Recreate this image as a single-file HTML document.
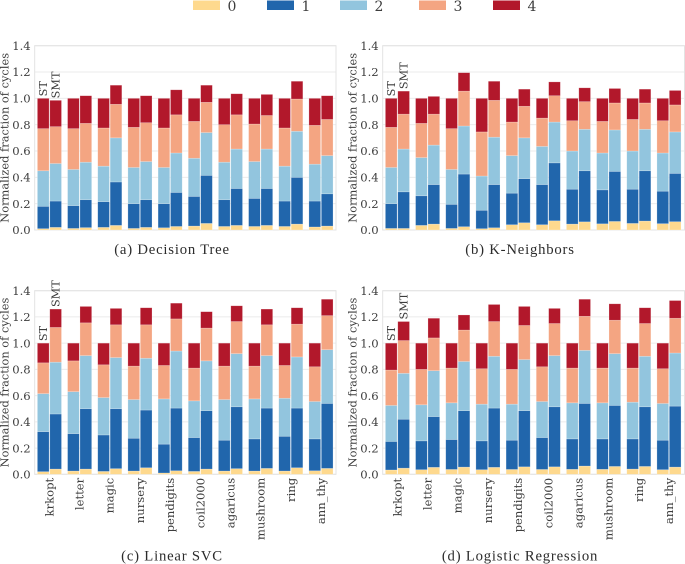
<!DOCTYPE html>
<html>
<head>
<meta charset="utf-8">
<title>Normalized fraction of cycles</title>
<style>
html,body{margin:0;padding:0;background:#fff;width:685px;height:564px;overflow:hidden}
svg{display:block}
text{font-family:"DejaVu Serif","Liberation Serif",serif;fill:#3d3d3d}
.cap{font-family:"Liberation Serif","DejaVu Serif",serif;font-size:14.7px;letter-spacing:.8px;fill:#2b2b2b}
</style>
</head>
<body>
<svg id="chart" xmlns="http://www.w3.org/2000/svg" width="685" height="564" viewBox="0 0 685 564"></svg>
<script>
// Dataset categories and axis ticks
const categories = ['krkopt','letter','magic','nursery','pendigits','coil2000','agaricus','mushroom','ring','ann_thy'];
const yTicks = [0,0.2,0.4,0.6,0.8,1.0,1.2,1.4];
const legendLabels = ['0','1','2','3','4'];

// Cumulative stack tops (levels 0..4) for each dataset
const decisionTreeST = [[.01,.18,.45,.77,1],[.012,.185,.46,.77,1],[.02,.215,.485,.775,1],[.012,.2,.475,.78,1],[.017,.2,.475,.775,1],[.03,.255,.545,.825,1],[.027,.23,.515,.8,1],[.027,.24,.52,.805,1],[.027,.22,.485,.775,1],[.023,.22,.5,.795,1]];
const decisionTreeSMT = [[.02,.22,.505,.785,.985],[.018,.23,.515,.81,1.02],[.035,.365,.7,.955,1.1],[.02,.23,.52,.815,1.02],[.027,.285,.585,.875,1.065],[.05,.415,.74,.97,1.1],[.035,.315,.615,.875,1.035],[.035,.315,.615,.87,1.03],[.045,.4,.75,.995,1.13],[.03,.275,.565,.84,1.02]];
const kNeighborsST = [[.012,.2,.475,.78,1],[.035,.26,.55,.81,1],[.012,.195,.46,.77,1],[.01,.15,.41,.745,1],[.04,.28,.565,.82,1],[.04,.345,.635,.85,1],[.045,.31,.6,.83,1],[.047,.305,.585,.825,1],[.05,.31,.6,.84,1],[.048,.295,.585,.83,1]];
const kNeighborsSMT = [[.012,.29,.615,.88,1.055],[.045,.345,.645,.88,1.015],[.025,.425,.79,1.055,1.195],[.017,.345,.705,.985,1.13],[.055,.39,.7,.94,1.07],[.07,.51,.82,1.02,1.125],[.062,.45,.765,.975,1.08],[.065,.445,.76,.965,1.075],[.068,.45,.765,.965,1.07],[.063,.43,.745,.95,1.06]];
const linearSvcST = [[.02,.325,.615,.85,1],[.025,.31,.63,.865,1],[.022,.3,.585,.835,1],[.025,.275,.57,.825,1],[.01,.23,.575,.83,1],[.022,.28,.56,.81,1],[.025,.26,.57,.825,1],[.025,.27,.575,.825,1],[.025,.29,.58,.83,1],[.027,.27,.555,.82,1]];
const linearSvcSMT = [[.04,.46,.855,1.12,1.26],[.04,.5,.905,1.155,1.28],[.043,.5,.89,1.14,1.265],[.05,.49,.885,1.14,1.27],[.027,.505,.94,1.185,1.305],[.04,.485,.865,1.115,1.24],[.043,.515,.92,1.165,1.285],[.045,.505,.905,1.14,1.26],[.05,.505,.895,1.145,1.27],[.045,.54,.95,1.21,1.335]];
const logisticRegST = [[.033,.25,.525,.795,1],[.035,.255,.53,.8,1],[.037,.265,.545,.81,1],[.035,.255,.535,.805,1],[.037,.26,.535,.8,1],[.037,.28,.555,.82,1],[.038,.27,.545,.81,1],[.038,.27,.545,.81,1],[.04,.27,.55,.81,1],[.035,.26,.54,.805,1]];
const logisticRegSMT = [[.047,.42,.77,1.02,1.165],[.053,.44,.79,1.04,1.19],[.055,.485,.86,1.1,1.215],[.053,.505,.9,1.165,1.295],[.057,.485,.875,1.135,1.28],[.057,.515,.905,1.15,1.265],[.063,.54,.945,1.205,1.335],[.06,.525,.92,1.175,1.3],[.06,.515,.9,1.15,1.27],[.055,.52,.925,1.19,1.325]];

const colors = ['#fed98e','#2166ac','#92c5de','#f4a582','#b2182b'];
const NS = 'http://www.w3.org/2000/svg';
const svg = document.getElementById('chart');

function make(tag, attrs, parent, txt){
  const el = document.createElementNS(NS, tag);
  for (const k in attrs) el.setAttribute(k, attrs[k]);
  if (txt !== undefined) el.textContent = txt;
  (parent || svg).appendChild(el);
  return el;
}

// Legend
const legendX = [193,267,340,419,493];
const legendGroup = make('g', {});


legendLabels.forEach(function(label, i){
  const sw = make('rect', {x:legendX[i], y:0.5, width:27, height:9.5, fill:colors[i]}, legendGroup);
  
  
  const t = make('text', {x:legendX[i]+39, y:10.8, 'text-anchor':'middle', 'font-size':'14'}, legendGroup, label);
  
  
});

function drawPanel(opt){
  const g = make('g', {});
  
  
  const yScale = function(v){ return opt.bottom - v * (opt.bottom - opt.top) / 1.4; };
  const groupX = function(i){ return opt.left + 2.7 + i * 30.17; };

  // gridlines and y ticks
  yTicks.forEach(function(v){
    const y = yScale(v);
    const line = make('line', {x1:opt.left, x2:opt.right, y1:y, y2:y, stroke:'#ebebeb', 'stroke-width':'1'}, g);
    
    
    const t = make('text', {x:opt.left-4, y:y+4.2, 'text-anchor':'end', 'font-size':'11.6'}, g, v.toFixed(1));
    
    
  });

  // frame
  const frame = make('rect', {x:opt.left, y:opt.top, width:opt.right-opt.left, height:opt.bottom-opt.top, fill:'none', stroke:'#e3e3e3', 'stroke-width':'1'}, g);
  
  

  // bars
  [opt.st, opt.smt].forEach(function(rows, s){
    rows.forEach(function(row, i){
      const x = groupX(i) + s * 12.4;
      row.forEach(function(top, k){
        const base = k === 0 ? 0 : row[k-1];
        const r = make('rect', {x:x, y:yScale(top), width:11.7, height:yScale(base)-yScale(top), fill:colors[k], stroke:'#ffffff', 'stroke-opacity':'.35', 'stroke-width':'.6'}, g);
        
        
      });
    });
  });

  // ST / SMT annotations on first group
  const stX = groupX(0) + 5.9, smtX = groupX(0) + 12.4 + 5.9;
  const stY = yScale(opt.st[0][4]) - 2, smtY = yScale(opt.smt[0][4]) - 2;
  const a1 = make('text', {transform:'translate(' + (stX+3.8) + ',' + stY + ') rotate(-90)', 'font-size':'11.3'}, g, 'ST');
  
  
  const a2 = make('text', {transform:'translate(' + (smtX+3.8) + ',' + smtY + ') rotate(-90)', 'font-size':'11.3'}, g, 'SMT');
  
  

  // y-axis title
  const yt = make('text', {transform:'translate(' + (opt.left-26) + ',' + ((opt.top+opt.bottom)/2) + ') rotate(-90)', 'text-anchor':'middle', 'font-size':'11.4'}, g, 'Normalized fraction of cycles');
  
  

  // category labels
  if (opt.showCats) {
    categories.forEach(function(c, i){
      const t = make('text', {transform:'translate(' + (groupX(i)+16) + ',' + (opt.bottom+3.5) + ') rotate(-90)', 'text-anchor':'end', 'font-size':'11.6'}, g, c);
      
      
    });
  }

  // caption
  const cap = make('text', {x:opt.capX, y:opt.capY, 'text-anchor':'middle', class:'cap'}, g, opt.caption);
  
  
}

drawPanel({name:'decision-tree', left:34.7, right:336, top:45.7, bottom:230, st:decisionTreeST, smt:decisionTreeSMT, showCats:false, caption:'(a) Decision Tree', capX:172, capY:254});
drawPanel({name:'k-neighbors', left:382.7, right:684.5, top:45.7, bottom:230, st:kNeighborsST, smt:kNeighborsSMT, showCats:false, caption:'(b) K-Neighbors', capX:520, capY:254});
drawPanel({name:'linear-svc', left:34.7, right:336, top:290.7, bottom:474.3, st:linearSvcST, smt:linearSvcSMT, showCats:true, caption:'(c) Linear SVC', capX:172, capY:560.5});
drawPanel({name:'logistic-regression', left:382.7, right:684.5, top:290.7, bottom:474.3, st:logisticRegST, smt:logisticRegSMT, showCats:true, caption:'(d) Logistic Regression', capX:520, capY:560.5});
</script>
</body>
</html>
